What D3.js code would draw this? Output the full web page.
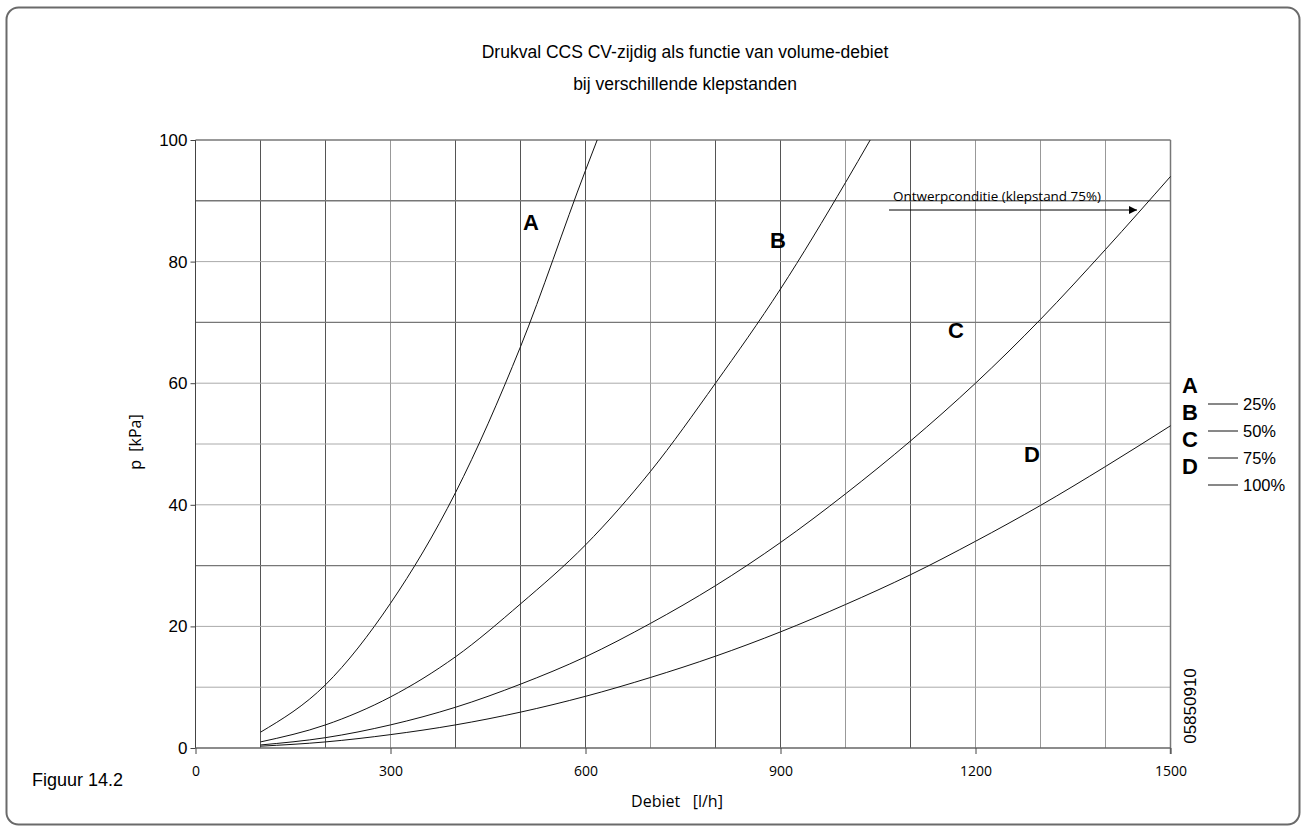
<!DOCTYPE html>
<html><head><meta charset="utf-8">
<script src="https://cdn.jsdelivr.net/npm/d3@7/dist/d3.min.js"></script>
<style>body{margin:0;background:#fff}svg{display:block}</style>
</head><body>
<svg id="c" width="1307" height="832"></svg>
<script>
// Data
const flowA = [100, 200, 300, 400, 500, 600, 618];
const pA    = [2.6, 10.4, 23.8, 42, 66, 95, 100];
const flowB = [100, 200, 300, 400, 500, 600, 700, 800, 900, 1000, 1038];
const pB    = [1.0, 3.8, 8.4, 15, 23.7, 33.4, 45.5, 60, 75.5, 93, 100];
const flowC = [100, 200, 300, 400, 500, 600, 700, 800, 900, 1000, 1100, 1200, 1300, 1400, 1500];
const pC    = [0.5, 1.7, 3.8, 6.7, 10.5, 15, 20.5, 26.7, 33.8, 41.8, 50.5, 60, 70.5, 82, 94];
const flowD = [100, 200, 300, 400, 500, 600, 700, 800, 900, 1000, 1100, 1200, 1300, 1400, 1500];
const pD    = [0.3, 1.0, 2.2, 3.8, 5.9, 8.5, 11.6, 15.1, 19.1, 23.6, 28.5, 34, 39.9, 46.3, 53];
const seriesNames = ["A", "B", "C", "D"];
const legendLabels = ["25%", "50%", "75%", "100%"];
const xTicks = [0, 300, 600, 900, 1200, 1500];
const yTicks = [0, 20, 40, 60, 80, 100];
const labelPos = [[516, 86.5], [896, 83.5], [1170, 68.6], [1287, 48.3]]; // [flow, p] where letter sits

const svg = d3.select("#c");
const F = "Liberation Sans, Arial, sans-serif";
const M = "Open Sans, sans-serif";

svg.append("rect").attr("x", 6.5).attr("y", 7.5).attr("width", 1293).attr("height", 817)
  .attr("rx", 12).attr("fill", "none").attr("stroke", "#6a6a6a").attr("stroke-width", 2);

const x = d3.scaleLinear().domain([0, 1500]).range([195.5, 1170.5]);
const y = d3.scaleLinear().domain([0, 100]).range([748, 140]);

// grid
const vGrid = d3.range(100, 1500, 100);
const darkV = [100, 200, 400, 500, 600, 800, 900, 1100];
svg.append("g").selectAll("line").data(vGrid).join("line")
  .attr("x1", d => x(d)).attr("x2", d => x(d)).attr("y1", y(100)).attr("y2", y(0))
  .attr("stroke", d => darkV.includes(d) ? "#555" : "#999").attr("stroke-width", 1);
const hGrid = d3.range(10, 110, 10);
const darkH = [90, 70, 30, 100];
svg.append("g").selectAll("line").data(hGrid).join("line")
  .attr("x1", x(0)).attr("x2", x(1500)).attr("y1", d => y(d)).attr("y2", d => y(d))
  .attr("stroke", d => darkH.includes(d) ? "#777" : "#aaa").attr("stroke-width", d => darkH.includes(d) ? 1.4 : 1);

// axes frame
svg.append("line").attr("x1", x(0)).attr("x2", x(0)).attr("y1", y(100)).attr("y2", y(0)).attr("stroke", "#444");
svg.append("line").attr("x1", x(1500)).attr("x2", x(1500)).attr("y1", y(100)).attr("y2", y(0)+6).attr("stroke", "#777").attr("stroke-width", 1.5);
svg.append("line").attr("x1", x(0)).attr("x2", x(1500)).attr("y1", y(0)).attr("y2", y(0)).attr("stroke", "#666").attr("stroke-width", 1.5);

const yAxis = d3.axisLeft(y).tickValues(yTicks).tickSize(5).tickPadding(3).tickFormat(d3.format("d"));
const gy = svg.append("g").attr("transform", `translate(${x(0)},0)`).call(yAxis);
gy.select(".domain").remove();
gy.selectAll("line").attr("stroke", "#444");
gy.selectAll("text").attr("font-family", F).attr("font-size", 17).attr("fill", "#000");

const xAxis = d3.axisBottom(x).tickValues(xTicks).tickSize(6).tickPadding(12).tickFormat(d3.format("d"));
const gx = svg.append("g").attr("transform", `translate(0,${y(0)})`).call(xAxis);
gx.select(".domain").remove();
gx.selectAll("line").attr("stroke", "#444");
gx.selectAll("text").attr("font-family", M).attr("font-size", 14).attr("fill", "#000");

// curves
const line = d3.line().x(d => x(d[0])).y(d => y(d[1])).curve(d3.curveMonotoneX);
const sets = [[flowA, pA], [flowB, pB], [flowC, pC], [flowD, pD]];
sets.forEach(([f, p]) => {
  svg.append("path").attr("d", line(f.map((v, i) => [v, p[i]])))
    .attr("fill", "none").attr("stroke", "#111").attr("stroke-width", 1);
});

// series letters
svg.append("g").selectAll("text").data(seriesNames).join("text")
  .attr("x", (d, i) => x(labelPos[i][0])).attr("y", (d, i) => y(labelPos[i][1]))
  .attr("text-anchor", "middle").attr("dominant-baseline", "central")
  .attr("font-family", F).attr("font-weight", "bold").attr("font-size", 22).text(d => d);

// legend
const lg = svg.append("g");
seriesNames.forEach((n, i) => {
  lg.append("text").attr("x", 1190).attr("y", 393 + i * 27).attr("text-anchor", "middle")
    .attr("font-family", F).attr("font-weight", "bold").attr("font-size", 22).text(n);
  const ly = 404 + i * 27;
  lg.append("line").attr("x1", 1208).attr("x2", 1238).attr("y1", ly).attr("y2", ly).attr("stroke", "#111");
  lg.append("text").attr("x", 1243).attr("y", ly).attr("dominant-baseline", "central")
    .attr("font-family", F).attr("font-size", 16.5).text(legendLabels[i]);
});

// annotation
svg.append("defs").append("marker").attr("id", "ah").attr("viewBox", "0 0 10 10")
  .attr("refX", 10).attr("refY", 5).attr("markerWidth", 14).attr("markerHeight", 8)
  .attr("markerUnits", "userSpaceOnUse").attr("orient", "auto")
  .append("path").attr("d", "M0,0L10,5L0,10Z").attr("fill", "#000");
svg.append("line").attr("x1", 889).attr("x2", 1137).attr("y1", 210).attr("y2", 210)
  .attr("stroke", "#000").attr("stroke-width", 1).attr("marker-end", "url(#ah)");
svg.append("text").attr("x", 893).attr("y", 201).attr("font-family", M)
  .attr("font-size", 13.5).attr("textLength", 208).attr("lengthAdjust", "spacingAndGlyphs")
  .text("Ontwerpconditie (klepstand 75%)");

// titles
svg.append("text").attr("x", 685).attr("y", 58).attr("text-anchor", "middle")
  .attr("font-family", F).attr("font-size", 17.5).text("Drukval CCS CV-zijdig als functie van volume-debiet");
svg.append("text").attr("x", 685).attr("y", 90).attr("text-anchor", "middle")
  .attr("font-family", F).attr("font-size", 17.5).text("bij verschillende klepstanden");

svg.append("text").attr("x", 677).attr("y", 807).attr("text-anchor", "middle")
  .attr("font-family", M).attr("font-size", 16).attr("xml:space", "preserve").text("Debiet   [l/h]");
svg.append("text").attr("transform", "translate(141,442) rotate(-90)").attr("text-anchor", "middle")
  .attr("font-family", M).attr("font-size", 16).attr("xml:space", "preserve").text("p  [kPa]");
svg.append("text").attr("x", 32).attr("y", 786).attr("font-family", F)
  .attr("font-size", 18).text("Figuur 14.2");
svg.append("text").attr("transform", "translate(1196,706) rotate(-90)").attr("text-anchor", "middle")
  .attr("font-family", F).attr("font-size", 17).text("05850910");
</script>
</body></html>
